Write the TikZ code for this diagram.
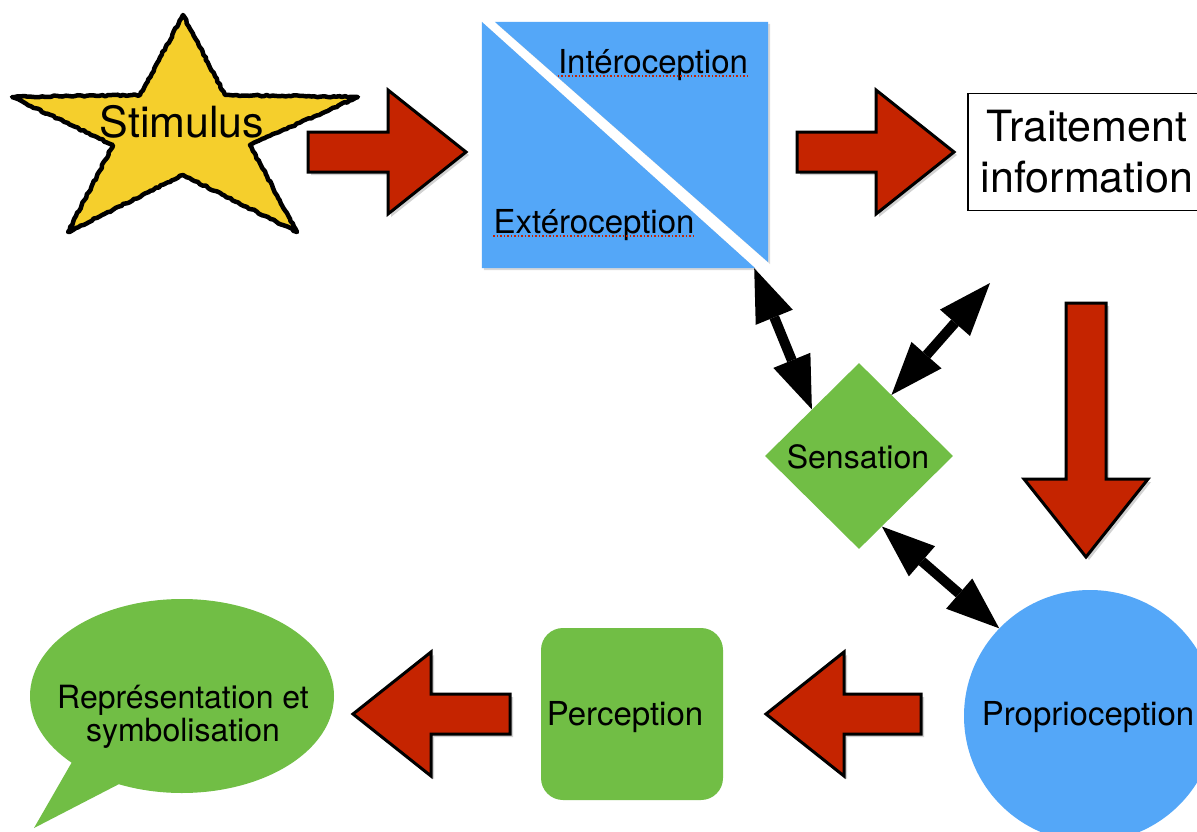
\documentclass[tikz,border=0pt]{standalone}
\usepackage{fontspec}
\setmainfont{TeX Gyre Heros}
\usepackage{tikz}
\usetikzlibrary{arrows.meta,shapes,shadows,decorations.pathmorphing}
\usepackage{xcolor}
\definecolor{styellow}{RGB}{245,207,44}
\definecolor{stblue}{RGB}{84,167,248}
\definecolor{stgreen}{RGB}{113,190,69}
\definecolor{stred}{RGB}{197,36,0}
\tikzstyle{bigarrow} = [draw=black, line width=3pt, fill=stred, drop shadow={shadow xshift=3pt, shadow yshift=-3pt, opacity=0.35}]
\tikzstyle{twoway} = [line width=10pt, {Triangle[length=53pt,width=40pt,line width=0pt]}-{Triangle[length=53pt,width=40pt,line width=0pt]}]
\tikzstyle{txt} = [anchor=base, inner sep=0, font=\fontsize{33}{33}\selectfont]

\begin{document}
\begin{tikzpicture}[x=1pt, y=-1pt]
    \path[fill=white, use as bounding box] (0,0) rectangle (1197,831);

    % Stimulus
    \draw[fill=styellow, line width=4.5pt, line join=round, decorate, decoration={random steps, segment length=3pt, amplitude=0.8pt}]
        (183,15) -- (225,95) -- (358,97) -- (250,145) -- (297,232) -- (183,175) -- (68,232) -- (113,145) -- (12,97) -- (140,95) -- cycle;
    \node[txt, font=\fontsize{43}{43}\selectfont] (stim) at (182,137) {Stimulus};

    % Interoception / Exteroception
    \node[rectangle, minimum width=286pt, minimum height=246pt, inner sep=0] (sq) at (625,145) {};
    \fill[stblue, drop shadow={shadow xshift=2pt, shadow yshift=-2pt, opacity=0.3}] (sq.north west) -- ([xshift=-13pt]sq.south east) -- (sq.south west) -- cycle;
    \fill[stblue, drop shadow={shadow xshift=2pt, shadow yshift=-2pt, opacity=0.3}] ([xshift=13pt]sq.north west) -- (sq.north east) -- ([yshift=6pt]sq.south east) -- cycle;
    \node[txt] (intero) at (653,73) {Intéroception};
    \node[txt] (extero) at (594,233) {Extéroception};
    \draw[stred, dotted, line width=1.5pt] ([yshift=-3pt]intero.base west) -- ([yshift=-3pt]intero.base east);
    \draw[stred, dotted, line width=1.5pt] ([yshift=-3pt]extero.base west) -- ([yshift=-3pt]extero.base east);

    % Traitement
    \node[rectangle, draw=black, line width=1.5pt, fill=white, minimum width=238pt, minimum height=117pt, align=center, font=\fontsize{43}{51}\selectfont] (trait) at (1087,152) {Traitement\\information};

    % Sensation
    \node[diamond, fill=stgreen, minimum width=188pt, minimum height=186pt, inner sep=0] (sens) at (859,456) {};
    \node[txt, font=\fontsize{32}{32}\selectfont] (senstxt) at (858,468) {Sensation};

    % Proprioception
    \node[circle, fill=stblue, minimum size=252pt, inner sep=0] (prop) at (1090,716) {};
    \node[txt] (proptxt) at (1088,725) {Proprioception};

    % Perception
    \node[rectangle, rounded corners=22pt, fill=stgreen, minimum width=182pt, minimum height=172pt] (perc) at (632,714) {};
    \node[txt] (perctxt) at (625,725) {Perception};

    % Representation
    \node[ellipse callout, fill=stgreen, minimum width=304pt, minimum height=194pt, inner sep=0, callout absolute pointer={(34,828)}, callout pointer arc=22] (repr) at (182,696) {};
    \node[align=center, inner sep=0, font=\fontsize{32}{33}\selectfont] (reprtxt) at (183,717) {Représentation et\\symbolisation};

    % Red arrows
    \foreach \x/\y/\a/\l in {308/152/0/158, 797/152/0/157, 1086/303/-90/254, 921/714/180/155, 510/714/180/157}
        \draw[bigarrow, shift={(\x,\y)}, rotate=\a] (0,-20) -- (\l-78,-20) -- (\l-78,-62) -- (\l,0) -- (\l-78,62) -- (\l-78,20) -- (0,20) -- cycle;

    % Two-way arrows
    \coordinate (free) at (990,283);
    \draw[twoway] ([xshift=-14pt]sq.south east) -- (sens.north west);
    \draw[twoway] (free) -- (sens.62);
    \draw[twoway] (sens.-72) -- (prop.136);
\end{tikzpicture}
\end{document}
